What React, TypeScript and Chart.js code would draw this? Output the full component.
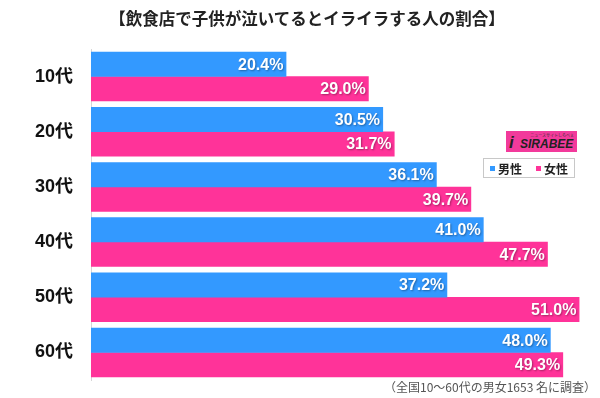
import React, { useEffect, useRef } from "react";
import { Chart, registerables } from "chart.js";

Chart.register(...registerables);

const categories = ["10代", "20代", "30代", "40代", "50代", "60代"];
const seriesNames = ["男性", "女性"];
const maleValues = [20.4, 30.5, 36.1, 41.0, 37.2, 48.0];
const femaleValues = [29.0, 31.7, 39.7, 47.7, 51.0, 49.3];
const titleText = "【飲食店で子供が泣いてるとイライラする人の割合】";
const noteText = "（全国10～60代の男女1653 名に調査）";

const BLUE = "#3399ff";
const PINK = "#ff3399";
const JP = '"Noto Sans CJK JP", "Noto Sans", sans-serif';
const NUM = '"Liberation Sans", Arial, "Noto Sans CJK JP", sans-serif';

const valueLabels = {
  id: "valueLabels",
  afterDatasetsDraw(chart: any) {
    const ctx = chart.ctx;
    ctx.save();
    ctx.font = `bold 16px ${NUM}`;
    ctx.textAlign = "right";
    ctx.textBaseline = "middle";
    ctx.fillStyle = "#ffffff";
    ctx.shadowColor = "rgba(0,0,0,0.35)";
    ctx.shadowBlur = 2;
    ctx.shadowOffsetX = 1;
    ctx.shadowOffsetY = 1;
    chart.data.datasets.forEach((ds: any, i: number) => {
      chart.getDatasetMeta(i).data.forEach((bar: any, j: number) => {
        const v = ds.data[j] as number;
        ctx.fillText(v.toFixed(1) + "%", bar.x - 3, bar.y + 1);
      });
    });
    ctx.restore();
  },
};

export default function App() {
  const ref = useRef<HTMLCanvasElement | null>(null);

  useEffect(() => {
    if (!ref.current) return;
    const chart = new Chart(ref.current, {
      type: "bar",
      data: {
        labels: categories,
        datasets: [
          { label: seriesNames[0], data: maleValues, backgroundColor: BLUE, borderWidth: 0 },
          { label: seriesNames[1], data: femaleValues, backgroundColor: PINK, borderWidth: 0 },
        ],
      },
      options: {
        indexAxis: "y",
        responsive: false,
        animation: false,
        layout: { padding: { top: 49, bottom: 18, right: 11, left: 0 } },
        datasets: { bar: { categoryPercentage: 0.888, barPercentage: 1.02 } } as any,
        plugins: {
          legend: { display: false },
          tooltip: { enabled: false },
          title: { display: false },
        },
        scales: {
          x: { display: false, min: 0, max: 52 },
          y: {
            grid: { display: false, drawTicks: true, tickLength: 18 },
            border: { display: true, color: "#d6d6d6", width: 1 },
            ticks: {
              color: "#111",
              padding: 0,
              font: { size: 18, weight: "bold", family: NUM },
            },
            afterFit(scale: any) {
              scale.width = 91;
            },
          },
        },
      } as any,
      plugins: [valueLabels],
    });
    return () => chart.destroy();
  }, []);

  return (
    <div style={{ position: "absolute", left: 0, top: 0, width: 600, height: 398, background: "#fff", overflow: "hidden" }}>
      <canvas ref={ref} width={600} height={398} style={{ width: 600, height: 398, display: "block" }} />
      <div
        style={{
          position: "absolute",
          left: 0,
          width: 614,
          top: 8,
          textAlign: "center",
          font: `bold 16.5px ${JP}`,
          color: "#222",
          lineHeight: "20px",
        }}
      >
        {titleText}
      </div>
      <div
        style={{
          position: "absolute",
          left: 506,
          top: 131,
          width: 71,
          height: 21,
          background: "#f23a9b",
          overflow: "hidden",
        }}
      >
        <div style={{ position: "absolute", right: 3, top: 1, font: `4px ${JP}`, color: "#333", whiteSpace: "nowrap" }}>
          ニュースサイトしらべぇ
        </div>
        <div
          style={{
            position: "absolute",
            left: 3,
            top: 3,
            font: `italic bold 17px ${NUM}`,
            color: "#222",
            lineHeight: "18px",
          }}
        >
          i
        </div>
        <div
          style={{
            position: "absolute",
            left: 14,
            top: 7,
            font: `italic bold 12px ${NUM}`,
            color: "#222",
            lineHeight: "13px",
            letterSpacing: "0px",
          }}
        >
          SIRABEE
        </div>
      </div>
      <div
        style={{
          position: "absolute",
          left: 483,
          top: 158,
          width: 92,
          height: 20,
          border: "1px solid #c8c8c8",
          boxSizing: "border-box",
          display: "flex",
          alignItems: "center",
          justifyContent: "center",
          gap: 14,
          font: `bold 12px ${JP}`,
          color: "#222",
        }}
      >
        <span style={{ display: "flex", alignItems: "center", gap: 3 }}>
          <span style={{ width: 5, height: 5, background: BLUE, display: "inline-block" }} />
          {seriesNames[0]}
        </span>
        <span style={{ display: "flex", alignItems: "center", gap: 3 }}>
          <span style={{ width: 5, height: 5, background: PINK, display: "inline-block" }} />
          {seriesNames[1]}
        </span>
      </div>
      <div
        style={{
          position: "absolute",
          right: 4,
          top: 379,
          font: `12px ${JP}`,
          color: "#555",
          whiteSpace: "nowrap",
          lineHeight: "16px",
        }}
      >
        {noteText}
      </div>
    </div>
  );
}
